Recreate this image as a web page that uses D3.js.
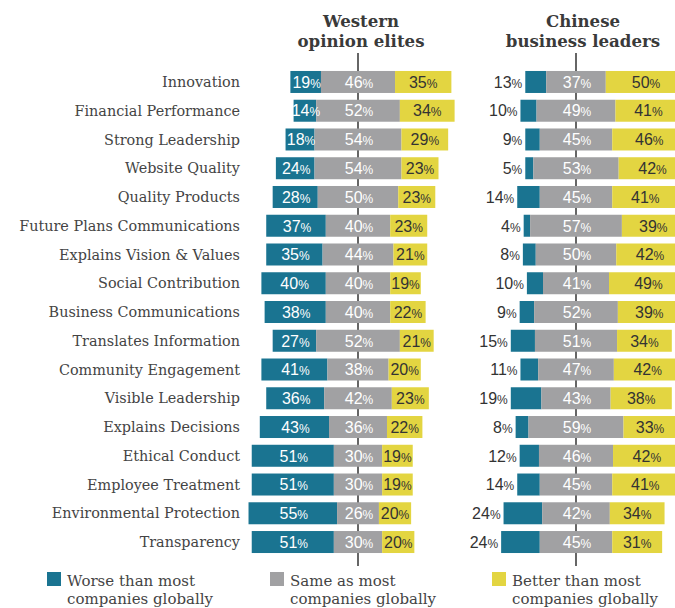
<!DOCTYPE html>
<html>
<head>
<meta charset="utf-8">
<script src="https://cdn.jsdelivr.net/npm/d3@7"></script>
<style>
  body { margin:0; background:#fff; }
  svg { display:block; }
</style>
</head>
<body>
<div id="chart"></div>
<script>
// reputation attributes, top to bottom
const categories = ["Innovation","Financial Performance","Strong Leadership","Website Quality",
  "Quality Products","Future Plans Communications","Explains Vision & Values","Social Contribution",
  "Business Communications","Translates Information","Community Engagement","Visible Leadership",
  "Explains Decisions","Ethical Conduct","Employee Treatment","Environmental Protection","Transparency"];

const westWorse  = [19,14,18,24,28,37,35,40,38,27,41,36,43,51,51,55,51];
const westSame   = [46,52,54,54,50,40,44,40,40,52,38,42,36,30,30,26,30];
const westBetter = [35,34,29,23,23,23,21,19,22,21,20,23,22,19,19,20,20];

const chinaWorse  = [13,10,9,5,14,4,8,10,9,15,11,19,8,12,14,24,24];
const chinaSame   = [37,49,45,53,45,57,50,41,52,51,47,43,59,46,45,42,45];
const chinaBetter = [50,41,46,42,41,39,42,49,39,34,42,38,33,42,41,34,31];

const legendLabels = [["Worse than most","companies globally"],["Same as most","companies globally"],["Better than most","companies globally"]];

const colors = ["#1a7491","#a1a1a3","#e3d541"];
const W = 675, H = 608;
const serif = "'DejaVu Serif', serif";
const sans = "'Liberation Sans', Arial, sans-serif";

const svg = d3.select("#chart").append("svg").attr("width", W).attr("height", H);

// rows: first bar centre ~82, step ~28.75
const y = d3.scaleBand().domain(categories).range([67.6, 556.4]).paddingInner(0.235).paddingOuter(0.1175);

// category labels
svg.append("g").selectAll("text").data(categories).enter().append("text")
  .attr("x", 240).attr("y", d => y(d) + y.bandwidth()/2).attr("dy","0.36em")
  .attr("text-anchor","end").attr("font-family", serif).attr("font-size", 14.4)
  .attr("fill","#444").text(d => d);

const panels = [
  { title:["Western","opinion elites"], cx:358, tx:361, worse:westWorse, same:westSame, better:westBetter, outside:false },
  { title:["Chinese","business leaders"], cx:576, tx:583, worse:chinaWorse, same:chinaSame, better:chinaBetter, outside:true }
];

function pctLabel(sel, val, x, yy, anchor, fill) {
  const t = sel.append("text").attr("x", x).attr("y", yy).attr("dy","0.36em")
    .attr("text-anchor", anchor).attr("font-family", sans).attr("fill", fill);
  t.append("tspan").attr("font-size", 16).text(val);
  t.append("tspan").attr("font-size", 12).text("%");
}

panels.forEach(p => {
  // percent scale centred on middle of the "same" segment
  const x = d3.scaleLinear().domain([-100, 100]).range([p.cx - 161, p.cx + 161]);
  const g = svg.append("g");

  g.append("line").attr("x1", p.cx).attr("x2", p.cx).attr("y1", 53).attr("y2", 566)
    .attr("stroke","#333").attr("stroke-width",1.5);

  g.selectAll("text.title").data(p.title).enter().append("text")
    .attr("x", p.tx).attr("y", (d,i) => 27 + i*20)
    .attr("text-anchor","middle").attr("font-family", serif).attr("font-weight","bold")
    .attr("font-size", 16.6).attr("fill","#3a3a3a").text(d => d);

  categories.forEach((c, i) => {
    const cy = y(c) + y.bandwidth()/2;
    const s0 = -p.same[i]/2, s1 = p.same[i]/2;
    const w0 = s0 - p.worse[i], b1 = s1 + p.better[i];
    const segs = [[w0, s0], [s0, s1], [s1, b1]];
    segs.forEach((s, k) => {
      g.append("rect").attr("x", x(s[0])).attr("y", y(c))
        .attr("width", x(s[1]) - x(s[0])).attr("height", y.bandwidth()).attr("fill", colors[k]);
    });
    if (p.outside) pctLabel(g, p.worse[i], x(w0) - 3, cy, "end", "#333");
    else pctLabel(g, p.worse[i], (x(w0) + x(s0))/2 + 1, cy, "middle", "#fff");
    pctLabel(g, p.same[i], x(0) + 1, cy, "middle", "#fff");
    pctLabel(g, p.better[i], (x(s1) + x(b1))/2, cy, "middle", "#333");
  });
});

// legend
const lx = [47, 270, 492];
const lg = svg.append("g");
legendLabels.forEach((lab, i) => {
  lg.append("rect").attr("x", lx[i]).attr("y", 572).attr("width", 14).attr("height", 14).attr("fill", colors[i]);
  lab.forEach((t, j) => {
    lg.append("text").attr("x", lx[i] + 20).attr("y", 586 + j*18)
      .attr("font-family", serif).attr("font-size", 15).attr("fill","#444").text(t);
  });
});
</script>
</body>
</html>
